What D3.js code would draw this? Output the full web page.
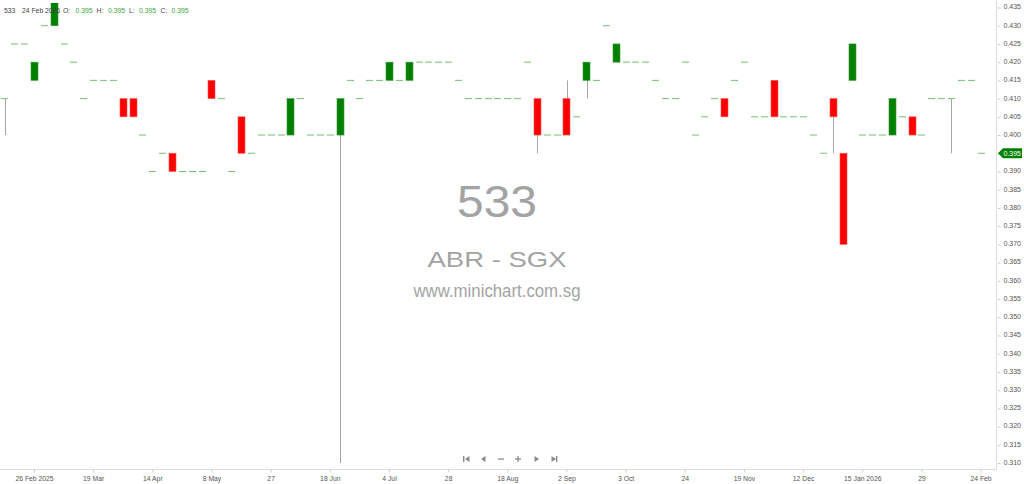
<!DOCTYPE html>
<html>
<head>
<meta charset="utf-8">
<script src="https://cdn.jsdelivr.net/npm/d3@7"></script>
<style>
html, body { margin: 0; padding: 0; background: #fff; }
svg { display: block; font-family: "Liberation Sans", Arial, sans-serif; }
</style>
</head>
<body>
<script>
'use strict';

// daily bars (only days with trades), oldest first
var open = [
  0.410, 0.425, 0.425, 0.415, 0.430, 0.430, 0.425, 0.420, 0.410, 0.415,
  0.415, 0.415, 0.410, 0.410, 0.400, 0.390, 0.395, 0.395, 0.390, 0.390,
  0.390, 0.415, 0.410, 0.390, 0.405, 0.395, 0.400, 0.400, 0.400, 0.400,
  0.410, 0.400, 0.400, 0.400, 0.400, 0.415, 0.410, 0.415, 0.415, 0.415,
  0.415, 0.415, 0.420, 0.420, 0.420, 0.420, 0.415, 0.410, 0.410, 0.410,
  0.410, 0.410, 0.410, 0.420, 0.410, 0.400, 0.400, 0.410, 0.405, 0.415,
  0.415, 0.430, 0.420, 0.420, 0.420, 0.420, 0.415, 0.410, 0.410, 0.420,
  0.400, 0.405, 0.410, 0.410, 0.415, 0.420, 0.405, 0.405, 0.415, 0.405,
  0.405, 0.405, 0.400, 0.395, 0.410, 0.395, 0.415, 0.400, 0.400, 0.400,
  0.400, 0.405, 0.405, 0.400, 0.410, 0.410, 0.410, 0.415, 0.415, 0.395
];
var high = [
  0.410, 0.425, 0.425, 0.420, 0.430, 0.440, 0.425, 0.420, 0.410, 0.415,
  0.415, 0.415, 0.410, 0.410, 0.400, 0.390, 0.395, 0.395, 0.390, 0.390,
  0.390, 0.415, 0.410, 0.390, 0.405, 0.395, 0.400, 0.400, 0.400, 0.410,
  0.410, 0.400, 0.400, 0.400, 0.410, 0.415, 0.410, 0.415, 0.415, 0.420,
  0.415, 0.420, 0.420, 0.420, 0.420, 0.420, 0.415, 0.410, 0.410, 0.410,
  0.410, 0.410, 0.410, 0.420, 0.410, 0.400, 0.400, 0.415, 0.405, 0.420,
  0.415, 0.430, 0.425, 0.420, 0.420, 0.420, 0.415, 0.410, 0.410, 0.420,
  0.400, 0.405, 0.410, 0.410, 0.415, 0.420, 0.405, 0.405, 0.415, 0.405,
  0.405, 0.405, 0.400, 0.395, 0.410, 0.395, 0.425, 0.400, 0.400, 0.400,
  0.410, 0.405, 0.405, 0.400, 0.410, 0.410, 0.410, 0.415, 0.415, 0.395
];
var low = [
  0.400, 0.425, 0.425, 0.415, 0.430, 0.430, 0.425, 0.420, 0.410, 0.415,
  0.415, 0.415, 0.405, 0.405, 0.400, 0.390, 0.395, 0.390, 0.390, 0.390,
  0.390, 0.410, 0.410, 0.390, 0.395, 0.395, 0.400, 0.400, 0.400, 0.400,
  0.410, 0.400, 0.400, 0.400, 0.310, 0.415, 0.410, 0.415, 0.415, 0.415,
  0.415, 0.415, 0.420, 0.420, 0.420, 0.420, 0.415, 0.410, 0.410, 0.410,
  0.410, 0.410, 0.410, 0.420, 0.395, 0.400, 0.400, 0.400, 0.405, 0.410,
  0.415, 0.430, 0.420, 0.420, 0.420, 0.420, 0.415, 0.410, 0.410, 0.420,
  0.400, 0.405, 0.410, 0.405, 0.415, 0.420, 0.405, 0.405, 0.405, 0.405,
  0.405, 0.405, 0.400, 0.395, 0.395, 0.370, 0.415, 0.400, 0.400, 0.400,
  0.400, 0.405, 0.400, 0.400, 0.410, 0.410, 0.395, 0.415, 0.415, 0.395
];
var close = [
  0.410, 0.425, 0.425, 0.420, 0.430, 0.440, 0.425, 0.420, 0.410, 0.415,
  0.415, 0.415, 0.405, 0.405, 0.400, 0.390, 0.395, 0.390, 0.390, 0.390,
  0.390, 0.410, 0.410, 0.390, 0.395, 0.395, 0.400, 0.400, 0.400, 0.410,
  0.410, 0.400, 0.400, 0.400, 0.410, 0.415, 0.410, 0.415, 0.415, 0.420,
  0.415, 0.420, 0.420, 0.420, 0.420, 0.420, 0.415, 0.410, 0.410, 0.410,
  0.410, 0.410, 0.410, 0.420, 0.400, 0.400, 0.400, 0.400, 0.405, 0.420,
  0.415, 0.430, 0.425, 0.420, 0.420, 0.420, 0.415, 0.410, 0.410, 0.420,
  0.400, 0.405, 0.410, 0.405, 0.415, 0.420, 0.405, 0.405, 0.405, 0.405,
  0.405, 0.405, 0.400, 0.395, 0.405, 0.370, 0.425, 0.400, 0.400, 0.400,
  0.410, 0.405, 0.400, 0.400, 0.410, 0.410, 0.410, 0.415, 0.415, 0.395
];

// date labels shown under every 6th bar
var tickIndex = [3, 9, 15, 21, 27, 33, 39, 45, 51, 57, 63, 69, 75, 81, 87, 93, 99];
var tickLabels = ["26 Feb 2025", "19 Mar", "14 Apr", "8 May", "27", "18 Jun", "4 Jul", "28",
  "18 Aug", "2 Sep", "3 Oct", "24", "19 Nov", "12 Dec", "15 Jan 2026", "29", "24 Feb"];

var code = "533";
var lastDate = "24 Feb 2026";
var name = "ABR - SGX";
var site = "www.minichart.com.sg";

var W = 1024, H = 484;
var plotRight = 996, plotBottom = 469;

var svg = d3.select("body").append("svg")
  .attr("width", W)
  .attr("height", H);

var x = d3.scaleBand()
  .domain(d3.range(open.length))
  .range([0, 986]);

var y = d3.scaleLinear()
  .domain([0.310, 0.435])
  .range([463, 7.5]);

var bodyW = 7;
var cx = function(i) { return x(i) + x.bandwidth() / 2; };

// watermark
var wm = svg.append("g").attr("fill", "#a3a3a3").attr("text-anchor", "middle");
wm.append("text").attr("x", 497).attr("y", 217).attr("font-size", 44)
  .attr("textLength", 80).attr("lengthAdjust", "spacingAndGlyphs").text(code);
wm.append("text").attr("x", 497).attr("y", 267).attr("font-size", 22.5)
  .attr("textLength", 139).attr("lengthAdjust", "spacingAndGlyphs").text(name);
wm.append("text").attr("x", 497).attr("y", 297).attr("font-size", 17.5)
  .attr("textLength", 167).attr("lengthAdjust", "spacingAndGlyphs").text(site);

svg.append("clipPath").attr("id", "plot")
  .append("rect").attr("x", 0).attr("y", 3).attr("width", plotRight).attr("height", plotBottom - 3);

var bars = svg.append("g").attr("clip-path", "url(#plot)");
var idx = d3.range(open.length);

//wicks
bars.selectAll(".wick")
  .data(idx.filter(function(i) { return high[i] > Math.max(open[i], close[i]) || low[i] < Math.min(open[i], close[i]); }))
  .enter().append("line")
  .attr("class", "wick")
  .attr("x1", function(i) { return Math.round(cx(i)) + 0.5; })
  .attr("x2", function(i) { return Math.round(cx(i)) + 0.5; })
  .attr("y1", function(i) { return y(high[i]); })
  .attr("y2", function(i) { return y(low[i]); })
  .attr("stroke", "#a6a6a6")
  .attr("stroke-width", 1);

//bodies
bars.selectAll(".body")
  .data(idx.filter(function(i) { return open[i] !== close[i]; }))
  .enter().append("rect")
  .attr("class", "body")
  .attr("x", function(i) { return Math.round(cx(i) - bodyW / 2); })
  .attr("y", function(i) { return y(Math.max(open[i], close[i])); })
  .attr("width", bodyW)
  .attr("height", function(i) { return Math.abs(y(open[i]) - y(close[i])); })
  .attr("fill", function(i) { return close[i] > open[i] ? "#008000" : "#ff0000"; })
  .attr("stroke", function(i) { return close[i] > open[i] ? "#3a9a3a" : "#ff5050"; })
  .attr("stroke-width", 0.6);

//no change days: short dash
bars.selectAll(".doji")
  .data(idx.filter(function(i) { return open[i] === close[i]; }))
  .enter().append("line")
  .attr("class", "doji")
  .attr("x1", function(i) { return Math.round(cx(i) - bodyW / 2); })
  .attr("x2", function(i) { return Math.round(cx(i) - bodyW / 2) + bodyW; })
  .attr("y1", function(i) { return y(close[i]); })
  .attr("y2", function(i) { return y(close[i]); })
  .attr("stroke", "#74bf74")
  .attr("stroke-width", 1);

// axes
svg.append("line")
  .attr("x1", 0).attr("x2", plotRight + 0.5)
  .attr("y1", plotBottom + 0.5).attr("y2", plotBottom + 0.5)
  .attr("stroke", "#dcdcdc");
svg.append("line")
  .attr("x1", plotRight + 0.5).attr("x2", plotRight + 0.5)
  .attr("y1", 0).attr("y2", plotBottom + 0.5)
  .attr("stroke", "#dcdcdc");

var xAxis = svg.append("g")
  .attr("transform", "translate(0," + (plotBottom + 0.5) + ")")
  .call(d3.axisBottom(x)
    .tickValues(tickIndex)
    .tickFormat(function(d, k) { return tickLabels[k]; })
    .tickSize(3)
    .tickPadding(3.5)
    .tickSizeOuter(0));
xAxis.select(".domain").remove();
xAxis.selectAll("line").attr("stroke", "#cfcfcf");
xAxis.selectAll("text").attr("fill", "#555").attr("font-size", 6.8).attr("font-family", null);

var yAxis = svg.append("g")
  .attr("transform", "translate(" + (plotRight + 0.5) + ",0)")
  .call(d3.axisRight(y)
    .tickValues(d3.range(0, 26).map(function(k) { return +(0.310 + k * 0.005).toFixed(3); }))
    .tickFormat(d3.format(".3f"))
    .tickSize(4)
    .tickPadding(3)
    .tickSizeOuter(0));
yAxis.select(".domain").remove();
yAxis.selectAll("line").attr("stroke", "#c8c8c8").attr("x1", 1.5);
yAxis.selectAll("text").attr("fill", "#555").attr("font-size", 7).attr("font-family", null).attr("dy", "0.2em");

// last price tag
var last = close[close.length - 1];
var ty = y(last);
svg.append("path")
  .attr("d", "M998," + ty + "L1003," + (ty - 5) + "L1022," + (ty - 5) + "L1022," + (ty + 5) + "L1003," + (ty + 5) + "Z")
  .attr("fill", "#008000");
svg.append("text")
  .attr("x", 1003.5).attr("y", ty + 2.6)
  .attr("fill", "#fff").attr("font-size", 7)
  .text(d3.format(".3f")(last));

// header line
var hdr = svg.append("g").attr("font-size", 6.8);
var lastI = open.length - 1;
var parts = [
  [4, code, "#444"], [22, lastDate, "#444"],
  [63, "O:", "#444"], [75.5, d3.format(".3f")(open[lastI]), "#3da63d"],
  [96.5, "H:", "#444"], [108, d3.format(".3f")(high[lastI]), "#3da63d"],
  [129, "L:", "#444"], [139, d3.format(".3f")(low[lastI]), "#3da63d"],
  [160.5, "C:", "#444"], [171.5, d3.format(".3f")(close[lastI]), "#3da63d"]
];
hdr.selectAll("text").data(parts).enter().append("text")
  .attr("x", function(d) { return d[0]; })
  .attr("y", 12.5)
  .attr("fill", function(d) { return d[2]; })
  .text(function(d) { return d[1]; });

// navigation buttons
var nav = svg.append("g").attr("fill", "#8a8a8a");
var ny = 459;
nav.append("rect").attr("x", 463).attr("y", ny - 3).attr("width", 1.4).attr("height", 6);
nav.append("path").attr("d", "M469.5," + (ny - 3) + "L469.5," + (ny + 3) + "L465,"+ ny + "Z");
nav.append("path").attr("d", "M485.5," + (ny - 3) + "L485.5," + (ny + 3) + "L481,"+ ny + "Z");
nav.append("rect").attr("x", 498).attr("y", ny - 0.6).attr("width", 6).attr("height", 1.3);
nav.append("rect").attr("x", 515).attr("y", ny - 0.6).attr("width", 6).attr("height", 1.3);
nav.append("rect").attr("x", 517.4).attr("y", ny - 3).attr("width", 1.3).attr("height", 6);
nav.append("path").attr("d", "M534.5," + (ny - 3) + "L534.5," + (ny + 3) + "L539,"+ ny + "Z");
nav.append("path").attr("d", "M551.5," + (ny - 3) + "L551.5," + (ny + 3) + "L556,"+ ny + "Z");
nav.append("rect").attr("x", 556).attr("y", ny - 3).attr("width", 1.4).attr("height", 6);
</script>
</body>
</html>
